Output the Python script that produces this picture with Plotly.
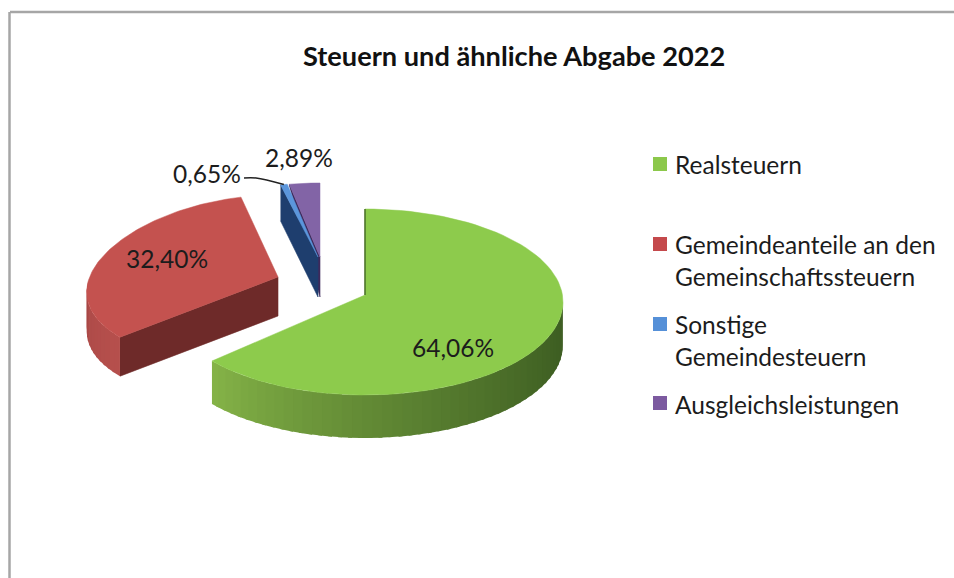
import numpy as np
import plotly.graph_objects as go

# ---- data ----
title = "Steuern und ähnliche Abgabe 2022"
categories = ["Realsteuern", "Gemeindeanteile an den Gemeinschaftssteuern",
              "Sonstige Gemeindesteuern", "Ausgleichsleistungen"]
shares = [64.06, 32.40, 0.65, 2.89]
legend_lines = [["Realsteuern"], ["Gemeindeanteile an den", "Gemeinschaftssteuern"],
                ["Sonstige", "Gemeindesteuern"], ["Ausgleichsleistungen"]]

# ---- styling / layout ----
W, H = 954, 578
FONT = "Lato"
top_col = ["#8DCB4C", "#C4524F", "#5B96DC", "#8264A6"]
key_col = ["#8CC84B", "#C4494C", "#5590D8", "#7C5AA0"]
# apex (x, y), rx, R, k (ellipse centre offset), depth, rim-end depth of the cut face, perspective
geom = [
    dict(cx=365, cy=295, rx=198, R=93, k=7, d=43, e=43, p=0.0),
    dict(cx=278, cy=277, rx=190, R=87, k=5, d=39, e=39, p=0.12),
    dict(cx=318, cy=257, rx=170, R=74, k=0, d=40, e=36, p=0.0),
    dict(cx=320, cy=257, rx=170, R=74, k=0, d=40, e=1, p=0.0),
]
wall_ramp = [("#86B548", "#3C5C21"), ("#A54644", "#B54F4C"), ("#1F3F70", "#1F3F70"), ("#4A2F6B", "#4A2F6B")]
face_col = ["#2F4A1A", "#6E2A29", "#1E3E6E", "#3E2A5C"]
label_pos = [(453, 347), (167, 258), (207, 173), (299, 157)]
legend_y = [[164], [244, 276], [324, 356], [404]]
key_y = [164, 244, 324, 403]


def rim(g, theta):
    c, s = np.cos(theta), np.sin(theta)
    return g["cx"] + g["rx"] * s * (1 - g["p"] * c), g["cy"] + g["k"] - g["R"] * c


def mix(a, b, t):
    ca = [int(a[i:i + 2], 16) for i in (1, 3, 5)]
    cb = [int(b[i:i + 2], 16) for i in (1, 3, 5)]
    return "#%02x%02x%02x" % tuple(round(x + (y - x) * t) for x, y in zip(ca, cb))


fig = go.Figure()


def poly(x, y, color, lw=0.6):
    fig.add_trace(go.Scatter(x=list(x), y=list(y), mode="lines", fill="toself", fillcolor=color,
                             line=dict(color=color, width=lw), hoverinfo="skip", showlegend=False))


edges = np.concatenate([[0], np.cumsum(shares)]) / 100 * 2 * np.pi
for i in [1, 3, 2, 0]:
    g = geom[i]
    a0, a1 = edges[i], edges[i + 1]
    # outer wall: the lower half of the rim, in shaded strips
    lo, hi = max(a0, np.pi / 2), min(a1, 3 * np.pi / 2)
    if hi > lo:
        n = 48 if i == 0 else 14
        cuts = np.linspace(lo, hi, n + 1)
        for j in range(n):
            th = np.linspace(cuts[j], min(cuts[j + 1] + 0.02, hi), 4)
            px, py = rim(g, th)
            t = (cuts[j] - lo) / (hi - lo)
            c0, c1 = wall_ramp[i]
            poly(np.r_[px, px[::-1]], np.r_[py, py[::-1] + g["d"]], mix(c1, c0, t ** 1.4), 0)
    # cut face at the start of the slice (visible when it faces the viewer)
    if i in (1, 2, 3):
        ex, ey = rim(g, a0)
        poly([ex, g["cx"], g["cx"], ex], [ey, g["cy"], g["cy"] + g["d"], ey + g["e"]], face_col[i])
    # top face
    th = np.linspace(a0, a1, 90)
    px, py = rim(g, th)
    poly(np.r_[g["cx"], px, g["cx"]], np.r_[g["cy"], py, g["cy"]], top_col[i], 0.5)
    if i == 0:
        ex, ey = rim(g, a0)
        fig.add_trace(go.Scatter(x=[ex, g["cx"]], y=[ey, g["cy"]], mode="lines",
                                 line=dict(color="#4A6E2A", width=1.5),
                                 hoverinfo="skip", showlegend=False))

# leader line of the smallest slice
bx, by = rim(geom[2], (edges[2] + edges[3]) / 2)
fig.add_trace(go.Scatter(x=[244, 256, bx], y=[178, 178, by], mode="lines",
                         line=dict(color="#222222", width=1.5, shape="spline"),
                         hoverinfo="skip", showlegend=False))

# legend keys
fig.add_trace(go.Scatter(x=[660] * 4, y=key_y, mode="markers",
                         marker=dict(symbol="square", size=14, color=key_col),
                         text=categories, hoverinfo="text", showlegend=False))

ann = []
for v, (x, y) in zip(shares, label_pos):
    ann.append(dict(x=x, y=y, text=f"{v:.2f}%".replace(".", ","), showarrow=False,
                    font=dict(family=FONT, size=24.5, color="#1c1c1c"), xanchor="center", yanchor="middle"))
for lines, ys in zip(legend_lines, legend_y):
    for s, y in zip(lines, ys):
        ann.append(dict(x=673, y=y, text=s, showarrow=False, xanchor="left", yanchor="middle",
                        font=dict(family=FONT, size=24.5, color="#1c1c1c")))
ann.append(dict(x=513.5, y=55.5, text=f"<b>{title}</b>", showarrow=False, xanchor="center", yanchor="middle",
                font=dict(family=FONT, size=27.2, color="#111111")))

fig.update_layout(
    width=W, height=H, autosize=False, margin=dict(l=0, r=0, t=0, b=0),
    paper_bgcolor="white", plot_bgcolor="white", annotations=ann,
    xaxis=dict(range=[0, W], visible=False, fixedrange=True),
    yaxis=dict(range=[H, 0], visible=False, fixedrange=True),
    shapes=[dict(type="line", x0=10, x1=W + 2, y0=12, y1=12, line=dict(color="#A6A6A6", width=2.5), layer="below"),
            dict(type="line", x0=9.5, x1=9.5, y0=12, y1=H + 2, line=dict(color="#A6A6A6", width=2.5), layer="below")],
)
fig.write_html("out.html", config=dict(displayModeBar=False),
               post_script="document.body.style.margin='0';document.body.style.overflow='hidden';")
